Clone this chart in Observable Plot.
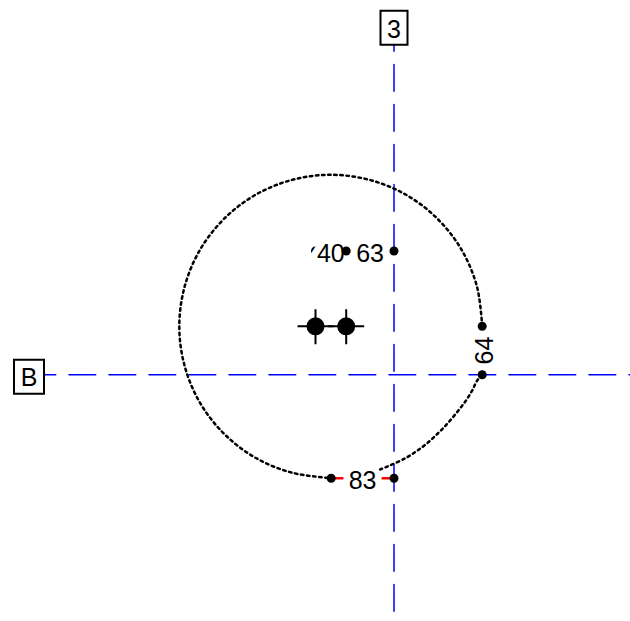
<!DOCTYPE html>
<html><head><meta charset="utf-8">
<script src="https://cdn.jsdelivr.net/npm/d3@7"></script>
<script src="https://cdn.jsdelivr.net/npm/@observablehq/plot@0.6"></script>
<style>body{margin:0;background:#fff;overflow:hidden}</style>
</head><body><div id="chart"></div>
<script>
// Coordinates are offsets from the crossing of the two reference lines (y up).
// Reference lines with boxed names
const refNames = ["B", "3"];
const refLabelX = [-365, 0];
const refLabelY = [0, 348];
const refEndX = [250, 0];
const refEndY = [0, -236.5];

// Points
const pointNames = ["a", "b", "c", "d", "e", "f", "g"];
const pointX = [-78.5, -47.8, 0, 88.2, 88.2, -62.8, 0];
const pointY = [123.8, 123.8, 123.8, 48.5, 0, -103.4, -103.4];
const hiddenPoints = ["a"];

// Labelled segments between points
const segFrom = ["a", "b", "d", "f"];
const segTo = ["b", "c", "e", "g"];
const segLabel = ["40", "63", "64", "83"];
const segColor = [null, null, null, "red"];
const segVertical = [false, false, true, false];

// Centres with crosshairs
const centerX = [-78.5, -47.8];
const centerY = [48.5, 48.5];

// Dotted arcs
const arc1X = [88.2, 83.1, 68.0, 43.9, 12.6, -24.0, -63.2, -102.4, -139.0, -170.3, -194.4, -209.5, -214.7, -209.5, -194.4, -170.3, -139.0, -102.4, -62.8];
const arc1Y = [48.5, 87.7, 124.3, 155.6, 179.7, 194.8, 200.0, 194.8, 179.7, 155.6, 124.3, 87.7, 48.5, 9.3, -27.3, -58.6, -82.7, -97.8, -103.4];
const arc2X = [88.2, 83.2, 78.2, 72.0, 63.6, 53.5, 43.8, 30.3, 10.8, -13.9];
const arc2Y = [0, -5.7, -15.7, -25.7, -36.7, -48.7, -58.7, -70.7, -83.7, -94.7];

// ---- build tables
const pts = pointNames.map((n, i) => ({name: n, x: pointX[i], y: pointY[i]}));
const byName = Object.fromEntries(pts.map(p => [p.name, p]));
const segs = segFrom.map((f, i) => ({
  a: byName[f], b: byName[segTo[i]], label: segLabel[i], color: segColor[i], vertical: segVertical[i]
}));
const refs = refNames.map((n, i) => ({name: n, x: refLabelX[i], y: refLabelY[i], ex: refEndX[i], ey: refEndY[i]}));
// horizontal drawn from label outward, vertical drawn from far end toward label
const refLines = refs.flatMap((r, i) => i === 0
  ? [{id: i, x: r.x, y: r.y}, {id: i, x: r.ex, y: r.ey}]
  : [{id: i, x: r.ex, y: r.ey}, {id: i, x: r.x, y: r.y}]);
const arc1 = arc1X.map((x, i) => ({x, y: arc1Y[i]}));
const arc2 = arc2X.map((x, i) => ({x, y: arc2Y[i]}));
const centers = centerX.map((x, i) => ({x, y: centerY[i]}));

const boxSymbol = {draw(ctx, size) { const w = Math.sqrt(size / Math.PI); ctx.rect(-w, -17, 2 * w, 34); }};
const crossSymbol = {draw(ctx) { ctx.moveTo(-18, 0); ctx.lineTo(18, 0); ctx.moveTo(0, -17); ctx.lineTo(0, 18); }};

const font = "Liberation Sans, Arial, Helvetica, sans-serif";
const fs = 25;
const mid = k => s => (s.a[k] + s.b[k]) / 2;

const chart = Plot.plot({
  width: 630, height: 621, margin: 0,
  style: {background: "white"},
  x: {domain: [-393.5, 236.5], axis: null},
  y: {domain: [-246.7, 374.3], axis: null},
  marks: [
    Plot.line(refLines, {x: "x", y: "y", z: "id", stroke: "#0000ff", strokeWidth: 1.5, strokeDasharray: "26.7,13.3"}),
    Plot.dot(refs.filter(r => r.name === "B"), {x: "x", y: "y", symbol: boxSymbol, r: 15, fill: "white", stroke: "black", strokeWidth: 2, dy: 2}),
    Plot.dot(refs.filter(r => r.name !== "B"), {x: "x", y: "y", symbol: boxSymbol, r: 13.5, fill: "white", stroke: "black", strokeWidth: 2, dy: 1}),
    Plot.text(refs, {x: "x", y: "y", text: "name", fontSize: fs, fontFamily: font, fill: "black", dy: 3}),
    Plot.link(segs.filter(s => s.color), {x1: s => s.a.x, y1: s => s.a.y, x2: s => s.b.x, y2: s => s.b.y, stroke: "red", strokeWidth: 2.4}),
    Plot.dot(pts.filter(p => hiddenPoints.includes(p.name)), {x: "x", y: "y", r: 4.5, fill: "black"}),
    Plot.text(segs.filter(s => !s.vertical), {x: mid("x"), y: mid("y"), text: "label", fontSize: fs, fontFamily: font, fill: "black", stroke: "white", strokeWidth: 14, paintOrder: "stroke", dy: 3}),
    Plot.text(segs.filter(s => s.vertical), {x: mid("x"), y: mid("y"), text: "label", rotate: -90, fontSize: fs, fontFamily: font, fill: "black", stroke: "white", strokeWidth: 14, paintOrder: "stroke", dx: 3}),
    Plot.line(arc1, {x: "x", y: "y", curve: "catmull-rom", stroke: "black", strokeWidth: 2.5, strokeDasharray: "2.5,3.6"}),
    Plot.line(arc2, {x: "x", y: "y", curve: "catmull-rom", stroke: "black", strokeWidth: 2.5, strokeDasharray: "2.5,3.6"}),
    Plot.dot(pts.filter(p => !hiddenPoints.includes(p.name)), {x: "x", y: "y", r: 4.5, fill: "black"}),
    Plot.dot(centers, {x: "x", y: "y", symbol: crossSymbol, stroke: "black", strokeWidth: 2}),
    Plot.dot(centers, {x: "x", y: "y", r: 9, fill: "black"})
  ]
});
document.getElementById("chart").appendChild(chart);
</script>
</body></html>
